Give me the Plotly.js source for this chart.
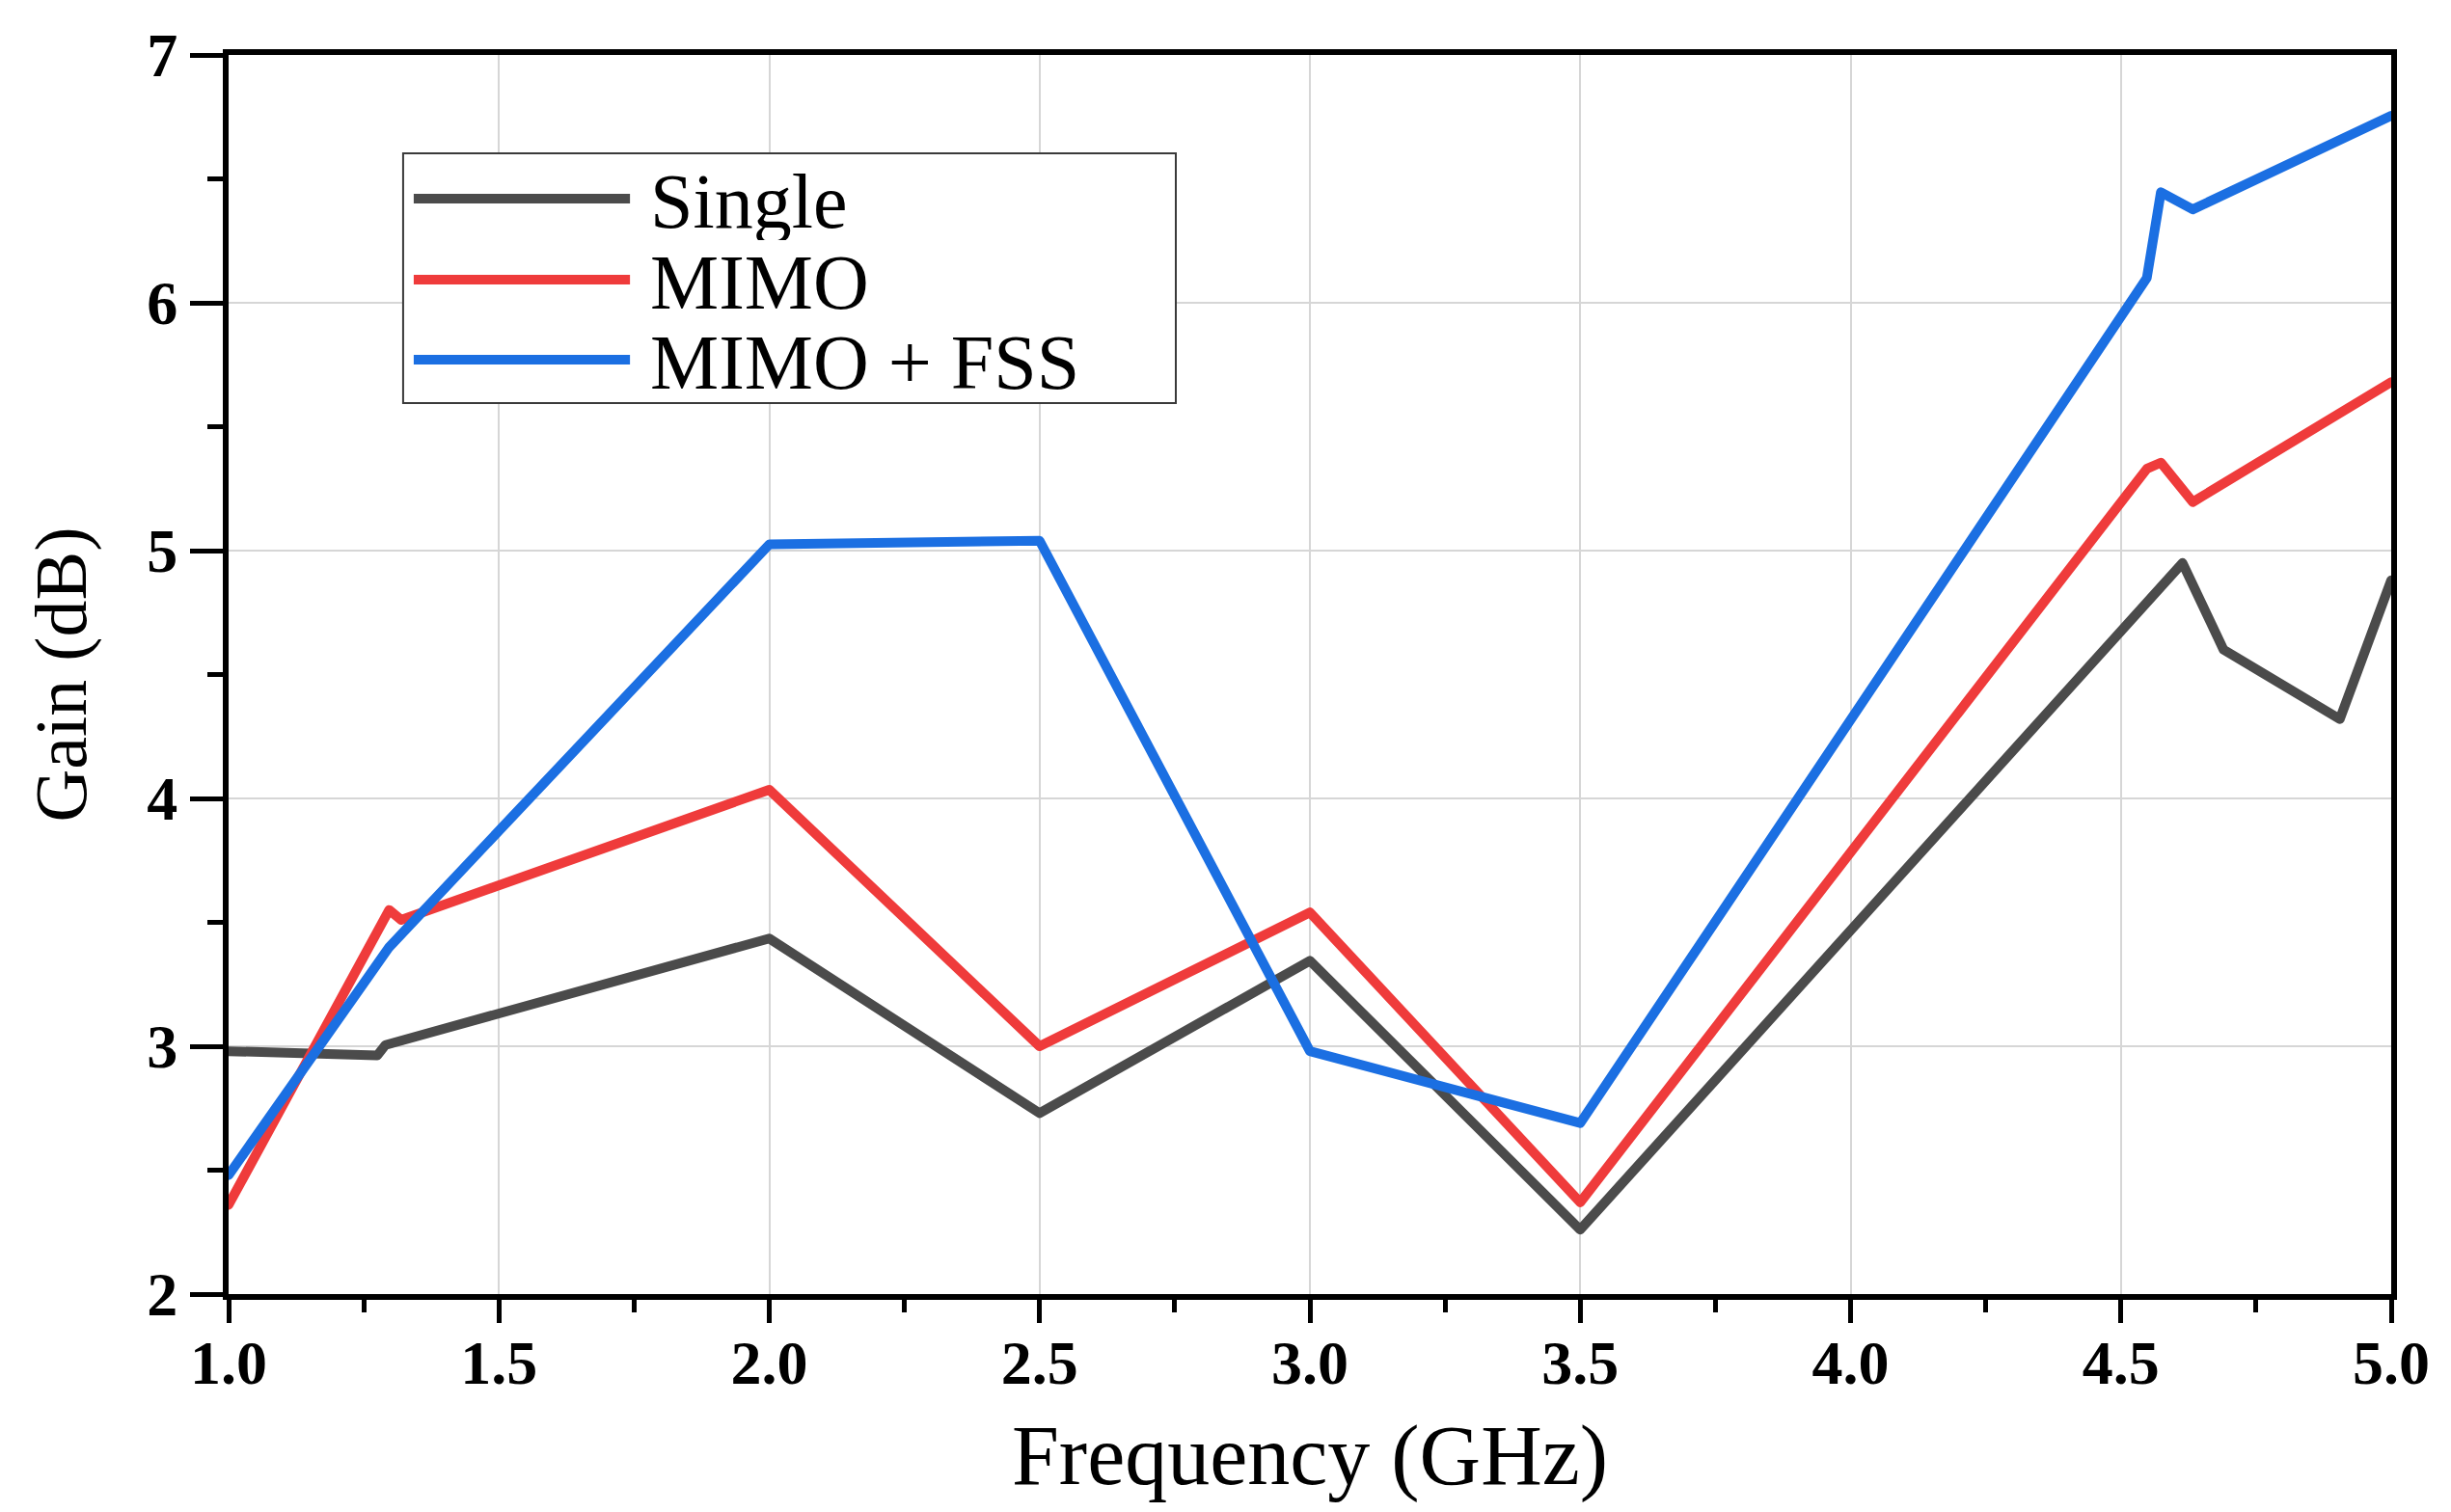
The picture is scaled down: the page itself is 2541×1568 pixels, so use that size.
<!DOCTYPE html>
<html>
<head>
<meta charset="utf-8">
<script src="https://cdn.plot.ly/plotly-3.0.1.min.js"></script>
<style>
html, body { margin: 0; padding: 0; background: #ffffff; }
#chart { width: 2541px; height: 1568px; }
.scatterlayer path.js-line { stroke-linejoin: round; stroke-linecap: round; }
</style>
</head>
<body>
<div id="chart"></div>
<script>
// ---- data ----
const seriesNames = ["Single", "MIMO", "MIMO + FSS"];
const seriesColors = ["#4b4b4b", "#ef3b3b", "#1b6fe2"];

const freqSingle = [1.0, 1.275, 1.29, 2.0, 2.5, 3.0, 3.5, 4.614, 4.69, 4.905, 5.0];
const gainSingle = [2.98, 2.963, 3.005, 3.435, 2.73, 3.345, 2.26, 4.95, 4.60, 4.32, 4.88];

const freqMimo = [1.0, 1.297, 1.319, 2.0, 2.5, 3.0, 3.5, 4.548, 4.574, 4.633, 5.0];
const gainMimo = [2.36, 3.55, 3.51, 4.035, 3.0, 3.54, 2.37, 5.33, 5.355, 5.196, 5.68];

const freqFss = [1.0, 1.297, 2.0, 2.5, 3.0, 3.5, 4.548, 4.574, 4.633, 5.0];
const gainFss = [2.48, 3.40, 5.025, 5.04, 2.98, 2.69, 6.10, 6.446, 6.377, 6.755];

const xTickVals = [1.0, 1.5, 2.0, 2.5, 3.0, 3.5, 4.0, 4.5, 5.0];
const xTickText = ["1.0", "1.5", "2.0", "2.5", "3.0", "3.5", "4.0", "4.5", "5.0"];
const yTickVals = [2, 3, 4, 5, 6, 7];
const yTickText = ["2", "3", "4", "5", "6", "7"];

const xData = [freqSingle, freqMimo, freqFss];
const yData = [gainSingle, gainMimo, gainFss];

// ---- traces ----
const LW = 10;
const traces = seriesNames.map((name, i) => ({
  type: "scatter",
  mode: "lines",
  name: name,
  x: xData[i],
  y: yData[i],
  line: { color: seriesColors[i], width: LW },
  showlegend: false,
  hoverinfo: "x+y+name"
}));

// ---- custom legend (box, sample lines, labels) in paper coordinates ----
const legBox = { x0: 0.0807, x1: 0.438, y0: 0.719, y1: 0.9206 };
const legRowY = [0.884, 0.8187, 0.754];
const legLineX = [0.0856, 0.1856];
const legTextX = 0.1945;

const shapes = [{
  type: "rect", xref: "paper", yref: "paper",
  x0: legBox.x0, x1: legBox.x1, y0: legBox.y0, y1: legBox.y1,
  line: { color: "#3a3a3a", width: 2 }, fillcolor: "#ffffff", layer: "above"
}];
const annotations = [];
seriesNames.forEach((name, i) => {
  shapes.push({
    type: "line", xref: "paper", yref: "paper",
    x0: legLineX[0], x1: legLineX[1], y0: legRowY[i], y1: legRowY[i],
    line: { color: seriesColors[i], width: LW }, layer: "above"
  });
  annotations.push({
    xref: "paper", yref: "paper", x: legTextX, y: legRowY[i] - 0.002,
    xanchor: "left", yanchor: "middle", showarrow: false,
    text: name, height: 80, valign: "middle", borderpad: 0,
    font: { family: "Liberation Serif, Times New Roman, serif", size: 80, color: "#000000" }
  });
});

const tickFont = { family: "Liberation Serif, Times New Roman, serif", size: 64, color: "#000000", weight: "bold" };
const titleFontFamily = "Liberation Serif, Times New Roman, serif";

const layout = {
  width: 2541,
  height: 1568,
  margin: { l: 237, r: 62, t: 57, b: 226, pad: 0 },
  paper_bgcolor: "#ffffff",
  plot_bgcolor: "#ffffff",
  showlegend: false,
  xaxis: {
    range: [1.0, 5.0],
    tickmode: "array",
    tickvals: xTickVals,
    ticktext: xTickText,
    tickfont: tickFont,
    ticks: "outside",
    ticklen: 24,
    tickwidth: 5,
    tickcolor: "#000000",
    ticklabelstandoff: -14,
    showline: true,
    linecolor: "#000000",
    linewidth: 6,
    mirror: true,
    showgrid: true,
    gridcolor: "#d6d6d6",
    gridwidth: 2,
    zeroline: false,
    minor: { dtick: 0.25, ticks: "outside", ticklen: 13, tickwidth: 5, tickcolor: "#000000", showgrid: false },
    title: { text: "Frequency (GHz)", font: { family: titleFontFamily, size: 88, color: "#000000" }, standoff: 32 },
    automargin: false
  },
  yaxis: {
    range: [2, 7],
    tickmode: "array",
    tickvals: yTickVals,
    ticktext: yTickText,
    tickfont: tickFont,
    ticks: "outside",
    ticklen: 34,
    tickwidth: 5,
    tickcolor: "#000000",
    showline: true,
    linecolor: "#000000",
    linewidth: 6,
    mirror: true,
    showgrid: true,
    gridcolor: "#d6d6d6",
    gridwidth: 2,
    zeroline: false,
    minor: { dtick: 0.5, ticks: "outside", ticklen: 16, tickwidth: 5, tickcolor: "#000000", showgrid: false },
    title: { text: "Gain (dB)", font: { family: titleFontFamily, size: 76, color: "#000000" }, standoff: 40 },
    automargin: false
  },
  shapes: shapes,
  annotations: annotations
};

Plotly.newPlot("chart", traces, layout, { displayModeBar: false, staticPlot: true });
</script>
</body>
</html>
